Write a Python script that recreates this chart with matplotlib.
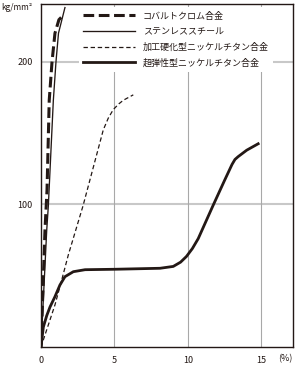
import matplotlib
matplotlib.use("Agg")
import matplotlib.pyplot as plt

plt.rcParams['font.family'] = ['Noto Sans CJK JP', 'DejaVu Sans']

# stress-strain data (strain %, stress kg/mm2)
cobalt_x = [0, 0.27, 0.41, 0.56, 0.75, 0.95, 1.22, 1.56]
cobalt_y = [0, 82, 110, 173, 200, 220, 229.5, 233]

steel_x = [0, 0.39, 0.50, 0.84, 1.02, 1.19, 1.63]
steel_y = [0, 82, 99, 173, 200, 220, 238]

hard_x = [0, 0.95, 1.41, 1.86, 2.86, 4.24, 4.58, 4.92, 5.3, 5.6, 6.28]
hard_y = [0, 29.5, 47, 64.6, 99, 152.3, 160.5, 166.5, 170.5, 173, 176.8]

super_x = [0, 0.16, 0.39, 0.61, 0.95, 1.29, 1.63, 2.2, 3.0, 5.0, 8.1, 9.0,
           9.5, 9.9, 10.3, 10.7, 11.7, 12.5, 13.0, 13.2, 13.42, 14.0, 14.78]
super_y = [0, 14, 22, 28, 35.3, 43.5, 49.3, 52.8, 54.2, 54.5, 55.2, 56.5,
           59.5, 63.5, 69, 76, 99, 117, 128, 131.5, 133.5, 138, 142.5]

labels = ['コバルトクロム合金', 'ステンレススチール',
          '加工硬化型ニッケルチタン合金', '超弾性型ニッケルチタン合金']
x_ticks = [0, 5, 10, 15]
y_ticks = [100, 200]

ink = '#231815'

fig = plt.figure(figsize=(3.0, 3.66), dpi=100)
ax = fig.add_axes([41 / 300, 1 - 347 / 366, 252 / 300, 343 / 366])

for y in y_ticks:
    ax.axhline(y, color='#c8c8c8', lw=1.5, zorder=1)
for x in x_ticks[1:]:
    ax.axvline(x, color='#a8a8a8', lw=0.8, zorder=1)

ax.plot(cobalt_x, cobalt_y, color=ink, lw=2.2, dashes=(3.5, 1.5),
        label=labels[0], zorder=3)
ax.plot(steel_x, steel_y, color=ink, lw=0.95, label=labels[1], zorder=3)
ax.plot(hard_x, hard_y, color=ink, lw=0.9, dashes=(3.5, 2.2),
        label=labels[2], zorder=3)
ax.plot(super_x, super_y, color=ink, lw=2.0, label=labels[3], zorder=3)

ax.set_xlim(0, 17.15)
ax.set_ylim(0, 240.5)
ax.set_xticks(x_ticks)
ax.set_yticks(y_ticks)
ax.set_xticklabels([str(v) for v in x_ticks])
ax.set_yticklabels([str(v) for v in y_ticks])
ax.tick_params(length=0, labelsize=6.5, colors=ink)
ax.tick_params(axis='x', pad=6.5)
ax.tick_params(axis='y', pad=5.8)
for s in ax.spines.values():
    s.set_color(ink)
    s.set_linewidth(1.0)
    s.set_zorder(6)

leg = ax.legend(loc='upper left', bbox_to_anchor=(0.149, 0.991), borderaxespad=0,
                fontsize=6.5, handlelength=5.8, handletextpad=0.8,
                labelspacing=0.72, borderpad=0.5, frameon=True, fancybox=False,
                framealpha=1, facecolor='white', edgecolor='none')
for t in leg.get_texts():
    t.set_color(ink)

fig.text(33 / 300, 1 - 8 / 366, 'kg/mm²', ha='right', va='center',
         fontsize=6, color=ink)
fig.text(285 / 300, 1 - 359 / 366, '(%)', ha='center', va='center',
         fontsize=6.5, color=ink)

fig.savefig('out.png', dpi=100)
